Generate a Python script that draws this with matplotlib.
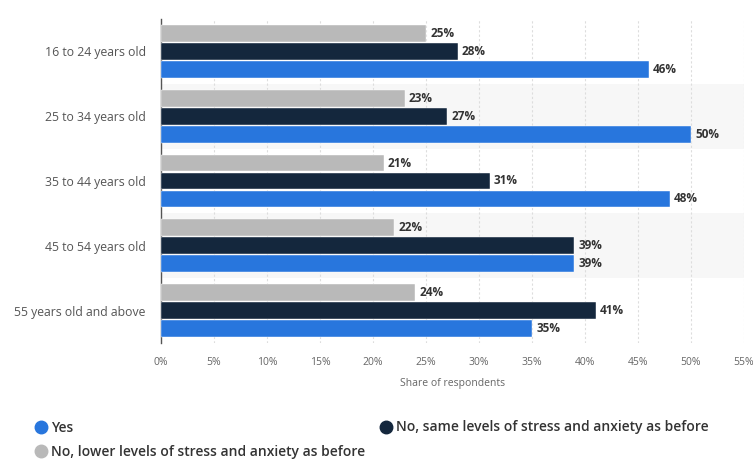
import matplotlib.pyplot as plt
import numpy as np
from matplotlib.lines import Line2D

plt.rcParams['font.family'] = ['Open Sans', 'DejaVu Sans']

categories = ["16 to 24 years old", "25 to 34 years old", "35 to 44 years old",
              "45 to 54 years old", "55 years old and above"]
yes_vals = [46, 50, 48, 39, 35]
same_vals = [28, 27, 31, 39, 41]
lower_vals = [25, 23, 21, 22, 24]
series_names = ["Yes", "No, same levels of stress and anxiety as before",
                "No, lower levels of stress and anxiety as before"]
x_ticks = list(range(0, 60, 5))

c_yes = '#2876dd'
c_same = '#14273d'
c_lower = '#b9b9b9'

fig = plt.figure(figsize=(7.53, 4.59), dpi=100)
ax = fig.add_axes([161 / 753, 1 - 343 / 459, 583 / 753, 324 / 459])

n = len(categories)
y = np.arange(n)[::-1].astype(float)
h = 0.26
step = 0.277

# alternating band background
for i in range(n):
    if i % 2 == 1:
        ax.axhspan(y[i] - 0.5, y[i] + 0.5, color='#f7f7f7', zorder=0, lw=0)

for vals, off, col in [(lower_vals, step, c_lower), (same_vals, 0, c_same), (yes_vals, -step, c_yes)]:
    ax.barh(y + off, vals, height=h, color=col, zorder=3, edgecolor='white', linewidth=0.3)
    for yy, v in zip(y + off, vals):
        ax.annotate("{}%".format(v), (v, yy), xytext=(3, 0), textcoords='offset points',
                    va='center', ha='left', fontsize=8.5, fontweight='bold', color='#333333')

ax.set_xlim(0, 55)
ax.set_ylim(-0.5, n - 0.5)
ax.set_xticks(x_ticks)
ax.set_xticklabels(["{}%".format(t) for t in x_ticks], fontsize=7.5, color='#666666')
ax.set_yticks(y)
ax.set_yticklabels(categories, fontsize=8.8, color='#555555')
ax.tick_params(axis='both', length=0)
ax.tick_params(axis='x', pad=10)
ax.tick_params(axis='y', pad=11)
ax.grid(axis='x', color='#dddddd', linestyle=(0, (2, 2)), linewidth=0.8, zorder=1)
for s in ['top', 'right', 'bottom']:
    ax.spines[s].set_visible(False)
ax.spines['left'].set_color('#555555')
ax.spines['left'].set_linewidth(1.0)
ax.set_xlabel("Share of respondents", fontsize=7.5, color='#666666', labelpad=7)

handles = [Line2D([], [], marker='o', linestyle='', markersize=9, color=c_yes),
           Line2D([], [], marker='o', linestyle='', markersize=9, color=c_lower),
           Line2D([], [], marker='o', linestyle='', markersize=9, color=c_same)]
labels = [series_names[0], series_names[2], series_names[1]]
leg = fig.legend(handles, labels, ncol=2, loc='upper left', bbox_to_anchor=(22 / 753, 1 - 408 / 459),
                 frameon=False, fontsize=10, handletextpad=0.2, columnspacing=1.0,
                 labelspacing=0.75, handlelength=1.0)
for t in leg.get_texts():
    t.set_color('#333333')
    t.set_fontweight('semibold')

fig.savefig("out.png", dpi=100)
